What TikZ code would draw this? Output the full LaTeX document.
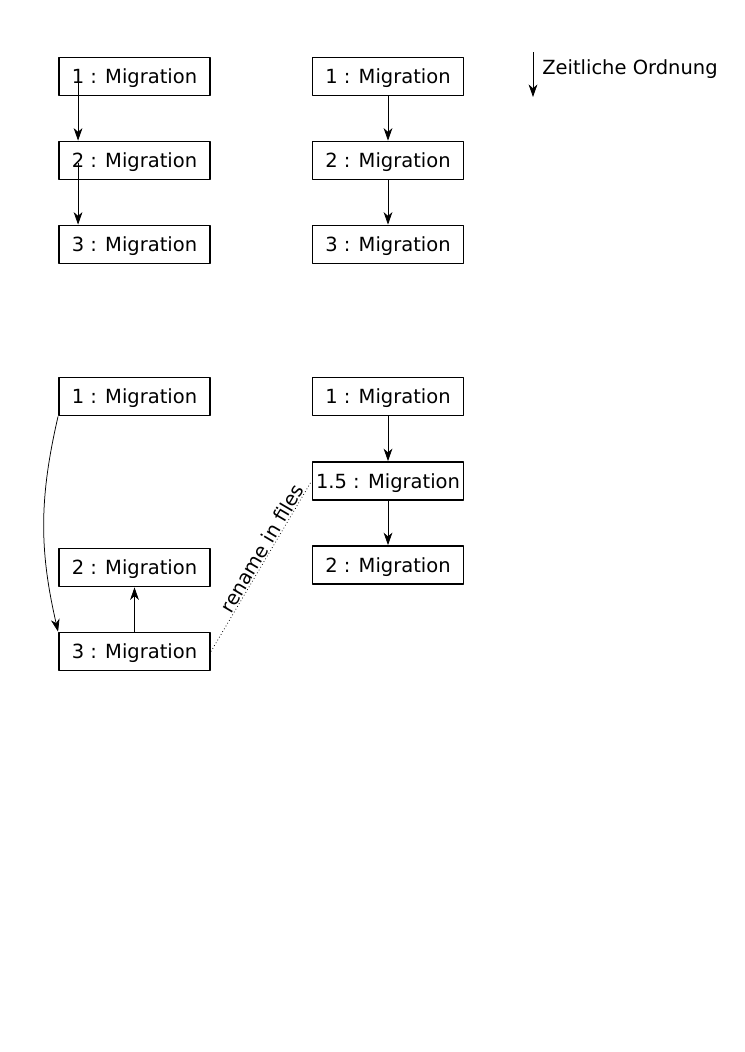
\documentclass[tikz,border=0pt]{standalone}
\usepackage{fontspec}
\setmainfont{DejaVu Sans}
\usetikzlibrary{arrows.meta}
\begin{document}
\begin{tikzpicture}[x=0.8pt, y=-0.8pt, font=\fontsize{15.6}{18}\selectfont, line join=round, >={Stealth[length=10pt,width=7pt,inset=3pt]}]
	\tikzset{mig/.style={draw, line width=1.3pt, minimum width=121pt, minimum height=30.5pt, inner sep=0pt, text depth=0pt},
		pfeil/.style={->, line width=0.6pt}}
	\useasboundingbox (0,0) rectangle (744,1052);
	% oben links
	\node[mig] (ol1) at (134.5,76.5) {1 : Migration};
	\node[mig] (ol2) at (134.5,160.5) {2 : Migration};
	\node[mig] (ol3) at (134.5,244.5) {3 : Migration};
	\draw[pfeil] ([xshift=16pt]ol1.west) -- ([xshift=16pt]ol2.north west);
	\draw[pfeil] ([xshift=16pt,yshift=-2pt]ol2.west) -- ([xshift=16pt]ol3.north west);
	% oben rechts
	\node[mig] (or1) at (388,76.5) {1 : Migration};
	\node[mig] (or2) at (388,160.5) {2 : Migration};
	\node[mig] (or3) at (388,244.5) {3 : Migration};
	\draw[pfeil] (or1) -- (or2);
	\draw[pfeil] (or2) -- (or3);
	% legende
	\coordinate (z1) at (533,52);
	\coordinate (z2) at (533,97);
	\draw[pfeil] (z1) -- (z2);
	\node[anchor=west, inner sep=0pt] (zeit) at (542,69) {Zeitliche Ordnung};
	% unten links
	\node[mig] (ul1) at (134.5,396.5) {1 : Migration};
	\node[mig] (ul2) at (134.5,567.5) {2 : Migration};
	\node[mig] (ul3) at (134.5,651.5) {3 : Migration};
	\draw[pfeil] (ul1.south west) to[bend right=13] (ul3.north west);
	\draw[pfeil] (ul3) -- (ul2);
	% unten rechts
	\node[mig] (ur1) at (388,396.5) {1 : Migration};
	\node[mig] (ur15) at (388,481) {1.5 : Migration};
	\node[mig] (ur2) at (388,565) {2 : Migration};
	\draw[pfeil] (ur1) -- (ur15);
	\draw[pfeil] (ur15) -- (ur2);
	\draw[dotted, line width=0.6pt] (ul3.east) -- node[pos=0.58, sloped, above, inner sep=0.5pt] {rename in files} (ur15.west);
\end{tikzpicture}
\end{document}
